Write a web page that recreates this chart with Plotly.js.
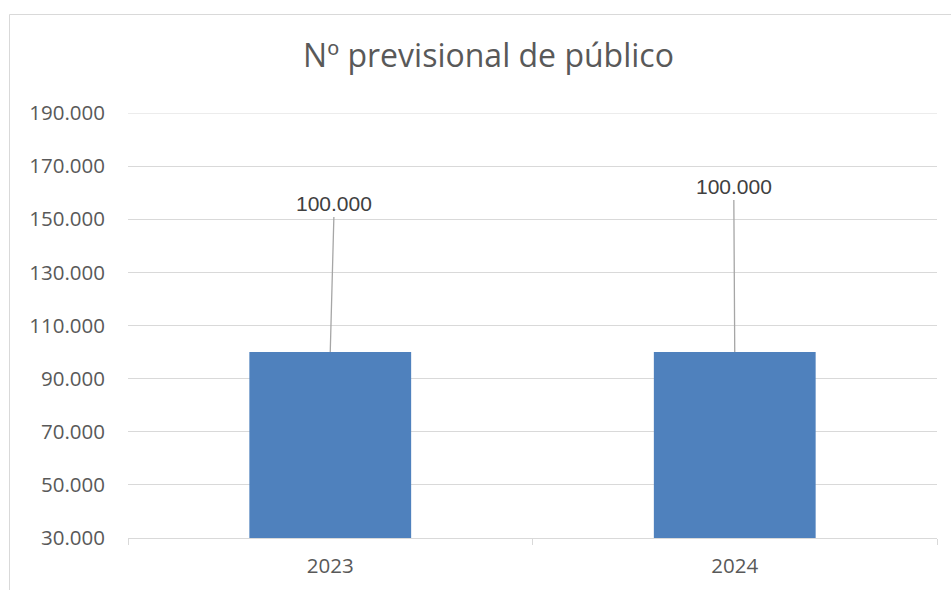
<!DOCTYPE html>
<html>
<head>
<meta charset="utf-8">
<script src="https://cdn.plot.ly/plotly-3.0.1.min.js"></script>
<style>
  html, body { margin: 0; padding: 0; background: #ffffff; }
  #chart { width: 951px; height: 590px; }
</style>
</head>
<body>
<div id="chart"></div>
<script>
// ---- data ----
const categories = ["2023", "2024"];
const visitors = [100000, 100000];
const valueLabels = ["100.000", "100.000"];
const yTickValues = [30000, 50000, 70000, 90000, 110000, 130000, 150000, 170000, 190000];
const yTickLabels = ["30.000", "50.000", "70.000", "90.000", "110.000", "130.000", "150.000", "170.000", "190.000"];
const chartTitle = "Nº previsional de público";

// ---- styling / placement (not data) ----
const textColor = "#595959";
const gridColor = "#D9D9D9";
const barColor = "#4F81BD";
const labelOffsets = [{ax: 4, ay: -149}, {ax: -1, ay: -166}];

const W = 951, H = 590;
const margin = {l: 128, r: 14, t: 113, b: 52};
const plotW = W - margin.l - margin.r;
const plotH = H - margin.t - margin.b;
const px2paperX = p => (p - margin.l) / plotW;
const px2paperY = p => (H - margin.b - p) / plotH;

const trace = {
  type: "bar",
  x: categories,
  y: visitors,
  marker: {color: barColor, line: {width: 0}},
  width: 0.4,
  hoverinfo: "x+y"
};

// category axis: position annotations by category index
const annotations = categories.map((c, i) => ({
  x: i,
  y: visitors[i],
  xref: "x",
  yref: "y",
  text: valueLabels[i],
  showarrow: true,
  arrowhead: 0,
  arrowwidth: 1.3,
  arrowcolor: "#A6A6A6",
  ax: labelOffsets[i].ax,
  ay: labelOffsets[i].ay,
  standoff: 0,
  borderpad: 2,
  font: {family: "Liberation Sans, Arial, sans-serif", size: 21, color: "#404040"}
}));

const yMin = yTickValues[0];
const yMax = yTickValues[yTickValues.length - 1];

const layout = {
  width: W,
  height: H,
  margin: margin,
  paper_bgcolor: "#ffffff",
  plot_bgcolor: "#ffffff",
  showlegend: false,
  bargap: 0.6,
  title: {
    text: chartTitle,
    font: {family: "Open Sans, sans-serif", size: 32, color: textColor},
    x: 488.5 / W,
    xanchor: "center",
    y: 1 - 56 / H,
    yanchor: "middle"
  },
  xaxis: {
    type: "category",
    range: [-0.5, categories.length - 0.5],
    showgrid: false,
    showline: true,
    linecolor: gridColor,
    linewidth: 1,
    ticks: "outside",
    tickson: "boundaries",
    ticklen: 6,
    tickcolor: gridColor,
    tickwidth: 1,
    ticklabelstandoff: 9,
    tickangle: 0,
    tickfont: {family: "Open Sans, sans-serif", size: 20.5, color: textColor},
    zeroline: false,
    fixedrange: true
  },
  yaxis: {
    range: [yMin, yMax],
    tickmode: "array",
    tickvals: yTickValues,
    ticktext: yTickLabels,
    showgrid: true,
    gridcolor: gridColor,
    gridwidth: 1,
    showline: false,
    zeroline: false,
    ticks: "",
    ticklabelstandoff: 22,
    tickfont: {family: "Open Sans, sans-serif", size: 20.5, color: textColor},
    fixedrange: true
  },
  annotations: annotations,
  shapes: [{
    type: "rect",
    xref: "paper",
    yref: "paper",
    x0: px2paperX(9.5),
    x1: px2paperX(960),
    y0: px2paperY(600),
    y1: px2paperY(14.5),
    line: {color: gridColor, width: 1},
    fillcolor: "rgba(0,0,0,0)",
    layer: "below"
  }, {
    // top gridline (Plotly skips gridlines lying on the plot edge)
    type: "line",
    xref: "paper",
    yref: "y",
    x0: 0,
    x1: 1,
    y0: yMax,
    y1: yMax,
    line: {color: gridColor, width: 1},
    layer: "below"
  }]
};

Plotly.newPlot("chart", [trace], layout, {displayModeBar: false, staticPlot: true});
</script>
</body>
</html>
